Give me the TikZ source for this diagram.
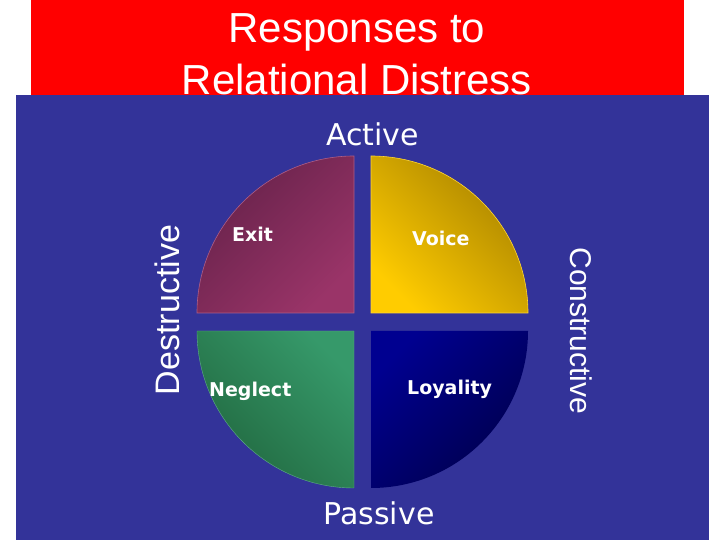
\documentclass[tikz,border=0pt]{standalone}
\usepackage{fontspec}
\setmainfont{Liberation Sans}
\newfontfamily\dejavu{DejaVu Sans}
\definecolor{bgblue}{HTML}{333399}
\definecolor{titlered}{HTML}{FF0000}
\definecolor{exitdark}{HTML}{66224A}
\definecolor{exitlight}{HTML}{9A3468}
\definecolor{voicedark}{HTML}{A88200}
\definecolor{voicelight}{HTML}{FFCC00}
\definecolor{neglight}{HTML}{36996A}
\definecolor{negdark}{HTML}{21683F}
\definecolor{loylight}{HTML}{000090}
\definecolor{loydark}{HTML}{00004C}
\tikzset{
  qlabel/.style={text=white, inner sep=0pt, anchor=base west, font=\dejavu\bfseries\fontsize{19}{22}\selectfont},
  axislabel/.style={text=white, inner sep=0pt, anchor=base, font=\dejavu\fontsize{30}{36}\selectfont},
  sidelabel/.style={text=white, inner sep=0pt, anchor=base, font=\fontsize{#1}{38}\selectfont},
  titlelabel/.style={text=white, inner sep=0pt, anchor=base, font=\fontsize{42}{50}\selectfont}
}
\begin{document}
\begin{tikzpicture}[x=1pt,y=1pt]
\useasboundingbox (0,0) rectangle (720,540);
\fill[white] (0,0) rectangle (720,540);
% title bar
\fill[titlered] (31,445) rectangle (684,540);
\node[titlelabel] (t1) at (357,497) {Responses to};
\node[titlelabel] (t2) at (357,445) {Relational Distress};
% blue panel
\fill[bgblue] (16,0) rectangle (709,445);
% quadrants
\shade[top color=exitdark, bottom color=exitlight, shading angle=45]
  (354,227) -- ++(0,157) arc[start angle=90, end angle=180, radius=157] -- cycle;
\draw[exitlight!80!white, line width=0.6pt]
  (354,227) -- ++(0,157) arc[start angle=90, end angle=180, radius=157] -- cycle;
\shade[top color=voicedark, bottom color=voicelight, shading angle=-45]
  (371,227) -- ++(157,0) arc[start angle=0, end angle=90, radius=157] -- cycle;
\draw[voicelight!80!white, line width=0.6pt]
  (371,227) -- ++(157,0) arc[start angle=0, end angle=90, radius=157] -- cycle;
\shade[top color=neglight, bottom color=negdark, shading angle=-45]
  (354,209) -- ++(-157,0) arc[start angle=180, end angle=270, radius=157] -- cycle;
\draw[neglight!80!white, line width=0.4pt]
  (354,209) -- ++(-157,0) arc[start angle=180, end angle=270, radius=157] -- cycle;
\shade[top color=loylight, bottom color=loydark, shading angle=45]
  (371,209) -- ++(0,-157) arc[start angle=270, end angle=360, radius=157] -- cycle;
% labels
\node[qlabel] (exit) at (232,298) {Exit};
\node[qlabel] (voice) at (412,294) {Voice};
\node[qlabel] (neglect) at (209,143) {Neglect};
\node[qlabel] (loyality) at (407,145) {Loyality};
\node[axislabel] (active) at (372.5,394) {Active};
\node[axislabel] (passive) at (379,15) {Passive};
\node[sidelabel=34, rotate=90] (destr) at (179,230) {Destructive};
\node[sidelabel=30, rotate=-90] (constr) at (570,209) {Constructive};
\end{tikzpicture}
\end{document}
